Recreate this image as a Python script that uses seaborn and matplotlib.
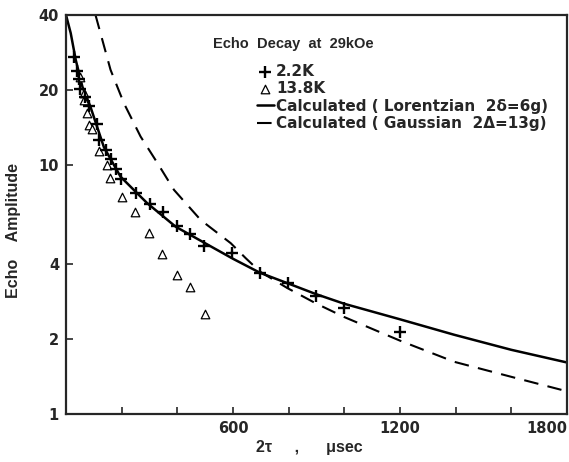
import matplotlib
matplotlib.use('Agg')
import matplotlib.pyplot as plt
import seaborn as sns
import pandas as pd

# ── data ──────────────────────────────────────────────────────────────────────
t_22k = [27, 38, 46, 52, 68, 84, 110, 117, 142, 160, 180, 199, 250, 302, 347,
         399, 447, 497, 597, 697, 796, 898, 1000, 1201]
amp_22k = [27.2, 23.9, 22.1, 20.1, 18.8, 17.3, 14.6, 12.6, 11.5, 10.6, 9.6, 8.8,
           7.69, 6.97, 6.49, 5.7, 5.28, 4.72, 4.42, 3.69, 3.37, 2.99, 2.66, 2.14]

t_138k = [50, 63, 63, 77, 82, 95, 117, 146, 158, 201, 247, 299, 346, 398, 445, 499]
amp_138k = [22.6, 19.4, 18.2, 16.2, 14.5, 13.9, 11.4, 10.0, 8.9, 7.44, 6.47, 5.33,
            4.37, 3.61, 3.23, 2.51]

t_lor = [0, 17, 35, 59, 88, 136, 196, 256, 292, 394, 532, 600, 697, 796, 898,
         1000, 1200, 1395, 1600, 1800]
amp_lor = [40, 33.8, 26.4, 20.6, 17.1, 11.8, 8.97, 7.69, 7.02, 5.65, 4.63, 4.2,
           3.69, 3.35, 3.03, 2.77, 2.40, 2.08, 1.81, 1.61]

t_gau = [106, 160, 208, 268, 328, 388, 484, 592, 646, 697, 796, 898, 1000, 1200,
         1395, 1600, 1780]
amp_gau = [40, 24.1, 17.7, 13.0, 10.2, 7.94, 6.01, 4.85, 4.22, 3.73, 3.2, 2.78,
           2.45, 1.97, 1.62, 1.41, 1.25]

x_ticks = [200, 400, 600, 800, 1000, 1200, 1400, 1600, 1800]
x_labels = ['', '', '600', '', '', '1200', '', '', '1800']
y_ticks = [1, 2, 4, 10, 20, 40]
y_labels = ['1', '2', '4', '10', '20', '40']

sns.set_style('ticks')
plt.rcParams['font.family'] = ['Liberation Sans', 'DejaVu Sans']
plt.rcParams['font.weight'] = 'bold'

fig = plt.figure(figsize=(5.69, 4.62), dpi=100)
ax = fig.add_axes([66/569, 48/462, 501/569, 399/462])

df22 = pd.DataFrame({'t': t_22k, 'a': amp_22k})
df138 = pd.DataFrame({'t': t_138k, 'a': amp_138k})
dflor = pd.DataFrame({'t': t_lor, 'a': amp_lor})
dfgau = pd.DataFrame({'t': t_gau, 'a': amp_gau})

sns.scatterplot(data=df22, x='t', y='a', ax=ax, marker='+', s=70, color='black',
                linewidth=1.7, label='2.2K', zorder=4)
sns.scatterplot(data=df138, x='t', y='a', ax=ax, marker='^', s=38, facecolor='white',
                edgecolor='black', linewidth=0.9, label='13.8K', zorder=3)
sns.lineplot(data=dflor, x='t', y='a', ax=ax, color='black', lw=1.8,
             estimator=None, label='Calculated ( Lorentzian  2\u03b4=6g)')
sns.lineplot(data=dfgau, x='t', y='a', ax=ax, color='black', lw=1.5,
             estimator=None, label='Calculated ( Gaussian  2\u0394=13g)')
ax.lines[-1].set_dashes([7, 4.5])

ax.set_yscale('log')
ax.set_xlim(0, 1800)
ax.set_ylim(1, 40)
tick_font = {'family': 'DejaVu Sans', 'size': 10.5, 'weight': 'bold'}
ax.set_xticks(x_ticks)
ax.set_xticklabels(x_labels, fontdict=tick_font)
ax.get_xticklabels()[-1].set_horizontalalignment('right')
ax.set_yticks(y_ticks)
ax.set_yticklabels(y_labels, fontdict=tick_font)
ax.minorticks_off()
ax.tick_params(direction='in', length=5, width=1.2, pad=5)
for s in ax.spines.values():
    s.set_linewidth(1.6)

ax.set_xlabel('2\u03c4     ,      \u03bcsec', fontsize=11.5, fontweight='bold')
ax.xaxis.set_label_coords(0.485, -0.065)
ax.set_ylabel('Echo    Amplitude', fontsize=11.5, fontweight='bold')
ax.yaxis.set_label_coords(-0.09, 0.46)

ax.text(213/569, 1 - 44/462, 'Echo  Decay  at  29kOe', transform=fig.transFigure,
        fontsize=10.5, fontweight='bold', va='center', ha='left')
leg = ax.legend(loc='upper left', bbox_to_anchor=(257/569, 1 - 64/462),
                bbox_transform=fig.transFigure, frameon=False,
                prop={'family': 'DejaVu Sans', 'size': 11, 'weight': 'bold'},
                handlelength=1.1, handletextpad=0.15, labelspacing=0.15,
                borderpad=0, borderaxespad=0)

plt.savefig('out.png', dpi=100, facecolor='white')
plt.close()
